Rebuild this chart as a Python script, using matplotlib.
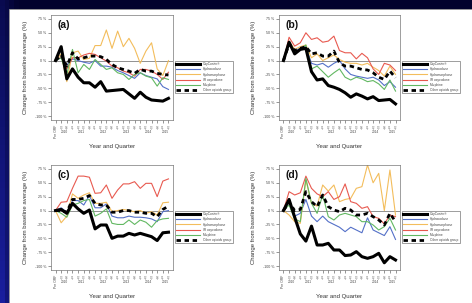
import matplotlib
matplotlib.use('Agg')
import matplotlib.pyplot as plt
import numpy as np
from matplotlib.patches import Rectangle

plt.rcParams['font.family'] = ['Liberation Sans', 'DejaVu Sans']

# ---------------- data ----------------
series_names = ['OxyContin®', 'Hydrocodone', 'Hydromorphone', 'IR oxycodone',
                'Morphine', 'Other opioids group']
tick_labels = ['Pre ORF', 'Q3', 'Q4', 'Q1', 'Q2', 'Q3', 'Q4', 'Q1', 'Q2', 'Q3', 'Q4',
               'Q1', 'Q2', 'Q3', 'Q4', 'Q1', 'Q2', 'Q3', 'Q4', 'Q1', 'Q2']
year_labels = ['2010', '2011', '2012', '2013', '2014', '2015']
year_first_idx = [1, 3, 7, 11, 15, 19]
year_last_idx = [2, 6, 10, 14, 18, 20]
panel_tags = ['(a)', '(b)', '(c)', '(d)']
y_ticks = [75, 50, 25, 0, -25, -50, -75, -100]

# panel (a)
a_oxycontin = [0, 25, -33, -15, -30, -40, -40, -48, -38, -55, -54, -53, -52, -60, -68, -57, -66, -71, -72, -73, -68]
a_hydrocodone = [0, 5, -8, 3, 0, -3, -5, 0, -10, -10, -12, -18, -22, -27, -32, -22, -27, -30, -33, -47, -52]
a_hydromorphone = [0, 12, -38, 14, 17, 2, 4, 27, 27, 55, 22, 53, 25, 40, 22, -5, 17, 32, -15, -27, 0]
a_iroxycodone = [0, 6, -15, 5, 5, 10, 13, 11, 5, -1, -10, -13, -19, -22, -28, -16, -16, -19, -25, -34, -21]
a_morphine = [0, 5, -25, 20, -22, -7, -16, 2, -7, -16, -13, -22, -25, -34, -25, -22, -28, -31, -46, -31, -34]
a_other = [0, 10, -10, 14, 3, 5, 8, 8, 7, 2, -7, -13, -16, -19, -23, -16, -19, -19, -23, -25, -26]

# panel (b)
b_oxycontin = [0, 33, 12, 20, 22, -20, -35, -33, -45, -48, -52, -58, -66, -60, -64, -69, -65, -72, -71, -70, -78]
b_hydrocodone = [0, 32, 18, 22, 25, -5, -8, -5, -12, -5, 0, -15, -25, -28, -30, -32, -30, -35, -45, -38, -48]
b_hydromorphone = [0, 35, 20, 25, 28, 5, 12, 0, 5, 10, 2, -3, -5, -5, -8, -5, -12, -18, -28, -10, -25]
b_iroxycodone = [0, 42, 26, 32, 50, 38, 41, 33, 35, 44, 18, 14, 14, 3, 13, 5, -15, -25, -5, -8, -18]
b_morphine = [0, 30, 15, 20, 28, -15, -10, -20, -30, -22, -15, -30, -35, -30, -33, -38, -36, -42, -52, -35, -55]
b_other = [0, 30, 18, 22, 25, 12, 14, 8, 8, 17, -4, -10, -10, -13, -16, -17, -22, -30, -34, -19, -31]

# panel (c)
c_oxycontin = [0, 2, -5, 13, 3, -5, 1, -33, -26, -26, -50, -46, -46, -41, -44, -41, -44, -47, -54, -40, -39]
c_hydrocodone = [0, 5, -3, 18, 18, 10, 27, 5, 5, 12, -10, -13, -13, -10, -12, -12, -13, -15, -20, -2, 0]
c_hydromorphone = [0, -22, -10, 30, 22, 28, 32, 13, 13, 15, -2, 0, 2, 0, -2, 0, -5, -2, -8, 14, 15]
c_iroxycodone = [0, 15, 16, 40, 62, 62, 60, 31, 32, 46, 22, 37, 48, 48, 52, 40, 49, 49, 25, 53, 57]
c_morphine = [0, -5, -12, 10, 13, 18, 20, -10, -5, 3, -23, -25, -25, -17, -25, -17, -21, -30, -18, -15, -14]
c_other = [0, 0, -3, 20, 20, 22, 27, 13, 10, 10, -3, -3, 0, 0, -3, -3, -5, -5, -11, 2, 8]

# panel (d)
d_oxycontin = [0, 20, -12, -42, -55, -28, -62, -62, -59, -71, -71, -81, -80, -74, -83, -86, -83, -77, -94, -83, -89]
d_hydrocodone = [0, 15, -10, -5, 20, -10, -20, -10, -20, -25, -30, -38, -30, -35, -40, -13, -35, -40, -45, -29, -52]
d_hydromorphone = [0, -8, -20, -23, 55, 13, 8, 46, 35, 46, 16, 20, 22, 40, 43, 82, 50, 67, 0, 73, -8]
d_iroxycodone = [0, 34, 28, 32, 62, 40, 30, 25, 34, 20, 25, 48, 16, 13, 4, 7, -11, -14, -24, -8, -11]
d_morphine = [0, 10, -15, -20, 58, 13, -5, 28, -11, -17, -8, -5, -8, -11, -20, -20, -26, -35, -29, -14, -35]
d_other = [0, 15, 0, 2, 34, 16, 7, 28, 7, 1, -2, 4, 1, -8, -8, -5, -11, -17, -26, -5, -20]

panels = [
    [a_oxycontin, a_hydrocodone, a_hydromorphone, a_iroxycodone, a_morphine, a_other],
    [b_oxycontin, b_hydrocodone, b_hydromorphone, b_iroxycodone, b_morphine, b_other],
    [c_oxycontin, c_hydrocodone, c_hydromorphone, c_iroxycodone, c_morphine, c_other],
    [d_oxycontin, d_hydrocodone, d_hydromorphone, d_iroxycodone, d_morphine, d_other],
]

# ---------------- styles ----------------
colors = ['#000000', '#5470c8', '#f3bd5c', '#e85a50', '#62b862', '#000000']
widths = [2.2, 0.8, 0.8, 0.8, 0.8, 2.0]
styles = ['-', '-', '-', '-', '-', (0, (1.6, 1.3))]

W, H = 472, 303
fig = plt.figure(figsize=(W / 100, H / 100), dpi=100)
fig.patch.set_facecolor('#02022e')

# background gradient (left strip brighter blue)
bg = fig.add_axes([0, 0, 1, 1], zorder=-10)
xs = np.linspace(0, 1, 100)
ys = np.linspace(0, 1, 50)[:, None]
base = np.array([0.01, 0.01, 0.18])
bright = np.array([0.10, 0.12, 0.62])
mix = np.clip((1 - xs[None, :] * 30), 0, 1) * (0.3 + 0.7 * ys)
grad = base[None, None, :] * (1 - mix[..., None]) + bright[None, None, :] * mix[..., None]
bg.imshow(grad, aspect='auto', extent=[0, 1, 0, 1], origin='upper')
bg.set_xlim(0, 1)
bg.set_ylim(0, 1)
bg.axis('off')
bg.add_patch(Rectangle((9 / W, 0), 1 - 9 / W, 1 - 9 / H, facecolor='white',
                       edgecolor='#999999', linewidth=0.6))

boxes = [(51, 15, 173, 120), (279, 15, 400, 120), (51, 165, 173, 270), (279, 165, 400, 270)]
x = np.arange(len(tick_labels))

for k, (l, t, r, b) in enumerate(boxes):
    ax = fig.add_axes([l / W, 1 - b / H, (r - l) / W, (b - t) / H])
    ax.axhline(0, color='#666666', lw=0.5, zorder=1)
    data = panels[k]
    for j, vals in enumerate(data):
        ax.plot(x, vals, color=colors[j], lw=widths[j], linestyle=styles[j],
                label=series_names[j], zorder=3 if j in (0, 5) else 2)
    ax.set_xlim(-0.8, 20.8)
    ax.set_ylim(-107, 82)
    ax.set_yticks(y_ticks)
    ax.set_yticklabels([f'{v} %' for v in y_ticks])
    ax.set_xticks(x)
    ax.set_xticklabels([])
    ax.tick_params(axis='both', labelsize=2.6, length=2, width=0.4, pad=1.5, colors='#444444')
    for s in ax.spines.values():
        s.set_linewidth(0.5)
        s.set_color('#777777')
    ax.text(0.05, 0.95, panel_tags[k], transform=ax.transAxes, fontsize=7.5,
            fontweight='bold', va='top', ha='left', color='#111111')
    ax.set_ylabel('Change from baseline average (%)', fontsize=4.3, color='#333333', labelpad=5)
    ax.set_xlabel('Year and Quarter', fontsize=4.3, color='#333333', labelpad=14)
    # custom x tick labels
    trans = ax.get_xaxis_transform()
    ax.text(0, -0.05, tick_labels[0], transform=trans, rotation=90, fontsize=2.4,
            ha='center', va='top', color='#444444')
    for i in range(1, len(tick_labels)):
        ax.text(i, -0.06, tick_labels[i], transform=trans, fontsize=1.8,
                ha='center', va='top', color='#555555')
    for yl, f0, f1 in zip(year_labels, year_first_idx, year_last_idx):
        ax.text((f0 + f1) / 2, -0.095, yl, transform=trans, fontsize=2.3,
                ha='center', va='top', color='#444444')
    leg = ax.legend(loc='upper left', bbox_to_anchor=(1.015, 0.565), fontsize=2.3,
                    handlelength=7.5, frameon=True, fancybox=False, edgecolor='#777777',
                    borderpad=0.5, labelspacing=0.35, handletextpad=0.8,
                    borderaxespad=0, framealpha=1)
    leg.get_frame().set_linewidth(0.5)
    for txt in leg.get_texts():
        txt.set_color('#444444')

fig.savefig('out.png', dpi=100, facecolor=fig.get_facecolor())
